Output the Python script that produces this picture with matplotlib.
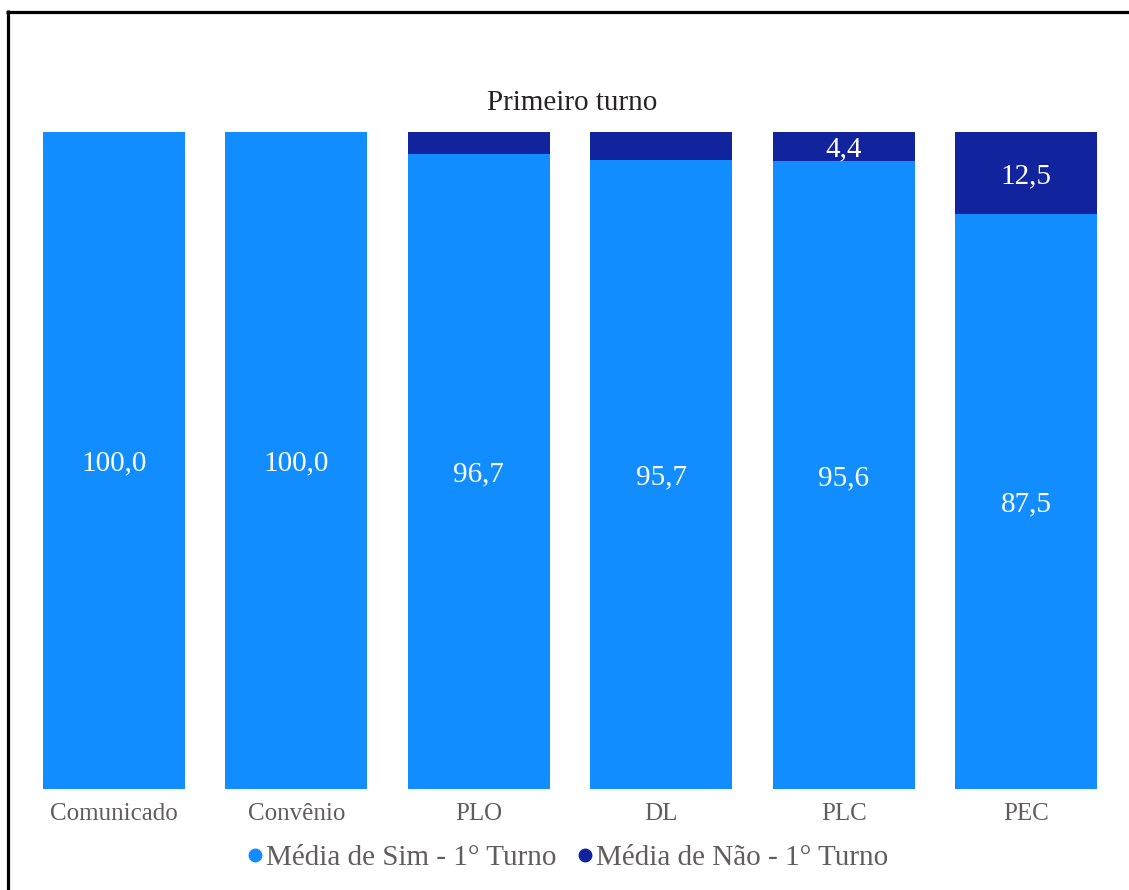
import matplotlib.pyplot as plt
import numpy as np
from matplotlib.lines import Line2D

plt.rcParams["font.family"] = ["Liberation Serif", "DejaVu Serif"]

categorias = ["Comunicado", "Convênio", "PLO", "DL", "PLC", "PEC"]
media_sim = [100.0, 100.0, 96.7, 95.7, 95.6, 87.5]
media_nao = [0.0, 0.0, 3.3, 4.3, 4.4, 12.5]
serie_sim = "Média de Sim - 1° Turno"
serie_nao = "Média de Não - 1° Turno"

cor_sim = "#118DFF"
cor_nao = "#12239E"
cor_texto = "#605E5C"

W, H = 1129, 890
fig = plt.figure(figsize=(W / 100, H / 100), dpi=100)
ax = fig.add_axes([22.8 / W, (H - 789) / H, 1094.4 / W, 657 / H])

x = np.arange(len(categorias))
b1 = ax.bar(x, media_sim, width=0.778, color=cor_sim)
b2 = ax.bar(x, media_nao, width=0.778, bottom=media_sim, color=cor_nao)

# value labels centred inside each segment (small ones are skipped)
for rect, v in zip(b1, media_sim):
    ax.text(rect.get_x() + rect.get_width() / 2, rect.get_y() + rect.get_height() / 2,
            f"{v:.1f}".replace(".", ","), ha="center", va="center_baseline",
            color="white", fontsize=21)
for rect, v in zip(b2, media_nao):
    if v < 4.4:
        continue
    ax.text(rect.get_x() + rect.get_width() / 2, rect.get_y() + rect.get_height() / 2,
            f"{v:.1f}".replace(".", ","), ha="center", va="center_baseline",
            color="white", fontsize=21)

ax.set_xlim(-0.5, len(categorias) - 0.5)
ax.set_ylim(0, 100)
ax.set_yticks([])
ax.set_xticks(x)
ax.set_xticklabels(categorias, fontsize=18, color=cor_texto)
ax.tick_params(axis="x", length=0, pad=10)
for s in ax.spines.values():
    s.set_visible(False)

fig.text(572 / W, 1 - 103 / H, "Primeiro turno", ha="center", va="center",
         fontsize=21, color="#252423")

handles = [
    Line2D([], [], marker="o", linestyle="none", markersize=9, color=cor_sim),
    Line2D([], [], marker="o", linestyle="none", markersize=9, color=cor_nao),
]
fig.legend(handles, [serie_sim, serie_nao], loc="center",
           bbox_to_anchor=(568 / W, 1 - 858 / H), ncol=2, frameon=False,
           fontsize=21, labelcolor=cor_texto, handlelength=0.5,
           handletextpad=0.1, columnspacing=0.75)

# frame lines along the top and left edges
fig.add_artist(Line2D([6 / W, 1], [1 - 11.5 / H, 1 - 11.5 / H], color="black",
                      linewidth=2.3, solid_capstyle="butt",
                      transform=fig.transFigure))
fig.add_artist(Line2D([7.5 / W, 7.5 / W], [0, 1 - 10 / H], color="black",
                      linewidth=2.3, solid_capstyle="butt",
                      transform=fig.transFigure))

fig.savefig("out.png", dpi=100)
